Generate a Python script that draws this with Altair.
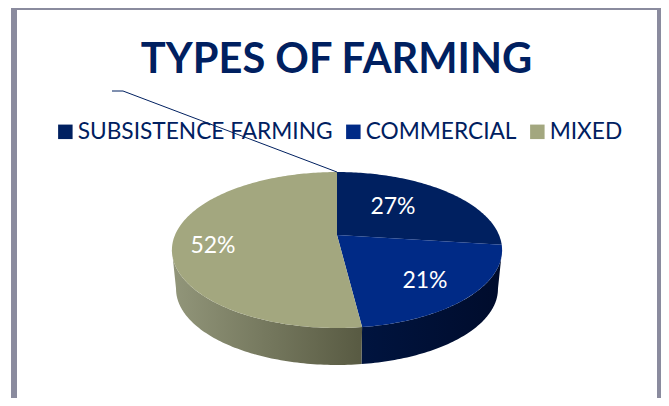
import math
import altair as alt
import pandas as pd

categories = ["SUBSISTENCE FARMING", "COMMERCIAL", "MIXED"]
shares = [27, 21, 52]
colors = ["#002060", "#002A86", "#A3A77F"]
TITLE = "TYPES OF FARMING"
FONT = "Lato"
NAVY = "#002060"

# perspective view of the pie's circular top face, in page pixels
CX, CY, K, A, C = 337.0, 235.0, 162.0, -29.9, 0.1923
DROP_S, DROP_Y = 0.975, 1808.0


def top(theta_deg):
    t = math.radians(theta_deg)
    X, Y = math.sin(t), math.cos(t)
    d = 1 + C * Y
    return CX + K * X / d, (CY + A * Y) / d


def bottom(theta_deg):
    x, y = top(theta_deg)
    return CX + (x - CX) * DROP_S, DROP_Y + (y - DROP_Y) * DROP_S


def angles(a, b, step=1.0):
    n = max(2, int(abs(b - a) / step))
    return [a + (b - a) * i / n for i in range(n + 1)]


cum = [0]
for s in shares:
    cum.append(cum[-1] + s)
edge = [c * 3.6 for c in cum]

rows = []
for i, cat in enumerate(categories):
    pts = [(CX, CY)] + [top(a) for a in angles(edge[i], edge[i + 1])] + [(CX, CY)]
    for j, (x, y) in enumerate(pts):
        rows.append({"cat": cat, "x": x, "y": y, "o": j})
sectors = pd.DataFrame(rows)

xs = alt.Scale(domain=[8, 661], range=[0, 653], nice=False, zero=False)
ys = alt.Scale(domain=[8, 398], range=[0, 390], nice=False, zero=False)
X = alt.X("x:Q", scale=xs, axis=None)
Y = alt.Y("y:Q", scale=ys, axis=None)


def wall(a, b, stops):
    front = [top(t) for t in angles(a, b)]
    back = [bottom(t) for t in angles(a, b)][::-1]
    df = pd.DataFrame([{"x": x, "y": y, "o": j} for j, (x, y) in enumerate(front + back + front[:1])])
    grad = alt.Gradient(gradient="linear", x1=0, x2=1, y1=0, y2=0,
                        stops=[alt.GradientStop(color=c, offset=o) for o, c in stops])
    return alt.Chart(df).mark_line(fill=grad, strokeWidth=0, stroke="transparent").encode(x=X, y=Y, order="o:Q")


# visible wall pieces, bounded by the pie's silhouette and the commercial/mixed boundary
right_sil = 101.0
left_sil = 259.0
wall_right = wall(right_sil, edge[2], [(0, "#00143F"), (1, "#000C2C")])
wall_left = wall(edge[2], left_sil, [(0, "#92967A"), (1, "#585A42")])

pie = alt.Chart(sectors).mark_line(strokeWidth=0, stroke="transparent").encode(
    x=X, y=Y, order="o:Q",
    fill=alt.Fill("cat:N", sort=categories,
                  scale=alt.Scale(domain=categories, range=colors),
                  legend=alt.Legend(title=None, orient="none", legendX=46, legendY=112,
                                    direction="horizontal", columns=3, padding=0,
                                    symbolType="square", symbolSize=210, symbolStrokeWidth=0,
                                    labelFont=FONT, labelFontSize=22.7, labelColor=NAVY,
                                    labelOffset=1, columnPadding=9, labelLimit=400)),
)

# frame around the slide
GREY = "#8A8B9E"
frame_parts = [(11, 17, 8, 398), (657, 661, 8, 398), (11, 661, 8, 10)]
frame = alt.layer(*[
    alt.Chart(pd.DataFrame({"a": [0]})).mark_rect(color=GREY).encode(
        x=alt.value(a - 8), x2=alt.value(b - 8), y=alt.value(c - 8), y2=alt.value(d - 8))
    for a, b, c, d in frame_parts
])

title = alt.Chart(pd.DataFrame({"t": [TITLE]})).mark_text(
    font=FONT, fontSize=41.6, fontWeight="bold", color=NAVY, align="center", baseline="alphabetic"
).encode(x=alt.value(336.5 - 8), y=alt.value(72.5 - 8), text="t:N")

leader_points = [(112, 91), (123, 91), top(0)]
leader = alt.Chart(pd.DataFrame([{"x": x, "y": y, "o": i} for i, (x, y) in enumerate(leader_points)])).mark_line(
    color=NAVY, strokeWidth=1).encode(x=X, y=Y, order="o:Q")

label_anchor = [(393, 207), (425, 281), (213, 246)]
labels = alt.Chart(pd.DataFrame({
    "t": [f"{s}%" for s in shares],
    "x": [p[0] for p in label_anchor],
    "y": [p[1] for p in label_anchor],
})).mark_text(color="white", font=FONT, fontSize=23, align="center", baseline="middle").encode(
    x=X, y=Y, text="t:N")

chart = alt.layer(frame, title, wall_right, wall_left, pie, leader, labels).properties(
    width=653, height=390, padding=0, autosize=alt.AutoSizeParams(type="none"),
    background="white",
).configure_view(stroke=None)

chart.save("out.html", embed_options={"renderer": "svg", "actions": False})
